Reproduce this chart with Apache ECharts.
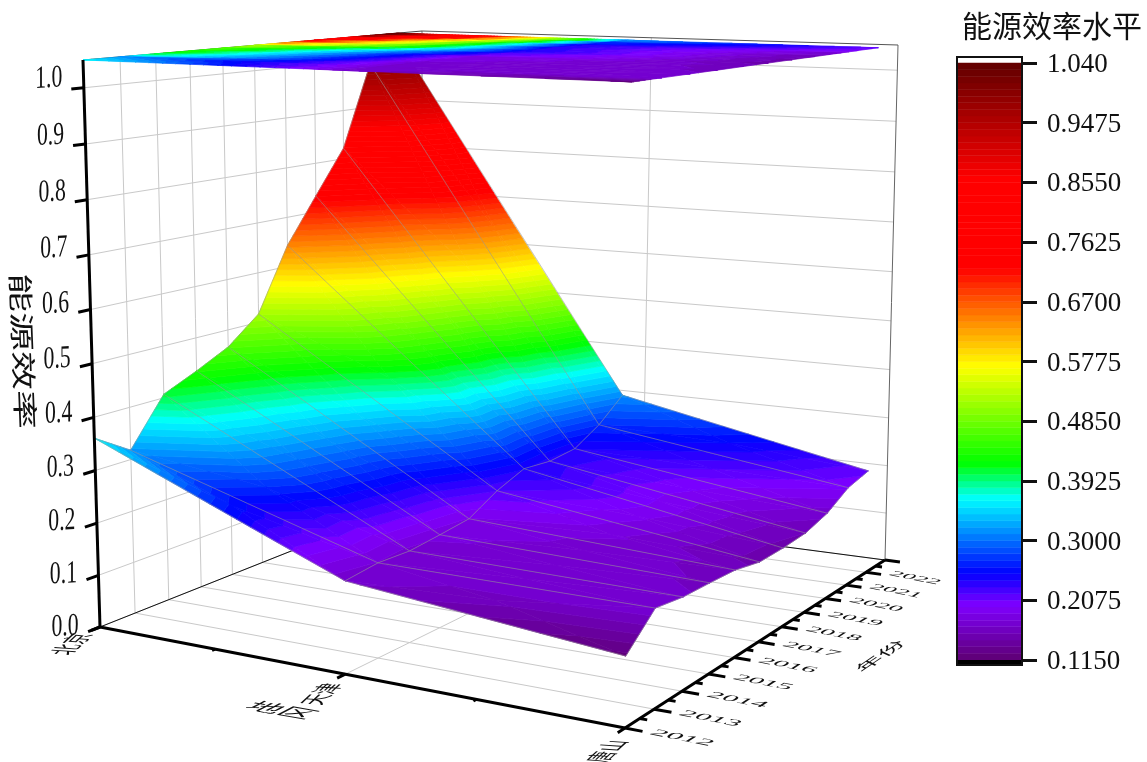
<!DOCTYPE html>
<html><head><meta charset="utf-8">
<style>html,body{margin:0;padding:0;background:#fff}#c{width:1147px;height:762px}</style>
<script src="https://cdn.jsdelivr.net/npm/echarts@6/dist/echarts.min.js"></script>
</head><body><div id="c"></div>
<script>
// ---- data ----
const regions = ['北京', '天津', '唐山'];
const years = [2012, 2013, 2014, 2015, 2016, 2017, 2018, 2019, 2020, 2021, 2022];
const beijing  = [0.361, 0.318, 0.407, 0.435, 0.466, 0.517, 0.643, 0.733, 0.822, 0.990, 1.040];
const tianjin  = [0.169, 0.176, 0.173, 0.179, 0.186, 0.218, 0.240, 0.234, 0.239, 0.269, 0.313];
const tangshan = [0.122, 0.175, 0.167, 0.165, 0.162, 0.151, 0.152, 0.156, 0.171, 0.199, 0.211];
const zTicks = [0, 0.1, 0.2, 0.3, 0.4, 0.5, 0.6, 0.7, 0.8, 0.9, 1.0];
const barTickLabels = ['1.040', '0.9475', '0.8550', '0.7625', '0.6700', '0.5775', '0.4850', '0.3925', '0.3000', '0.2075', '0.1150'];
const barTitle = '能源效率水平', zTitle = '能源效率', regionTitle = '地区', yearTitle = '年份';
const colorStops = [[0.115, [94,0,115]], [0.20, [127,0,255]], [0.25, [0,0,255]], [0.365, [0,255,255]],
  [0.42, [0,255,0]], [0.57, [255,255,0]], [0.722, [255,0,0]], [0.86, [255,0,0]], [1.04, [96,0,0]]];
const zMin = 0.115, zMax = 1.04, levelCount = 90;

// ---- camera of the 3D box ----
const zTop = 1.049, persp = 0.952, yearSpan = 11, regionPos = [0, 0.51, 1];
function homography(q) {
  const [p0, p1, p2, p3] = q;
  const dx1 = p1[0]-p2[0], dx2 = p3[0]-p2[0], sx = p0[0]-p1[0]+p2[0]-p3[0];
  const dy1 = p1[1]-p2[1], dy2 = p3[1]-p2[1], sy = p0[1]-p1[1]+p2[1]-p3[1];
  const den = dx1*dy2-dx2*dy1;
  const g = (sx*dy2-dx2*sy)/den, h = (dx1*sy-sx*dy1)/den;
  const a = p1[0]-p0[0]+g*p1[0], b = p3[0]-p0[0]+h*p3[0];
  const d = p1[1]-p0[1]+g*p1[1], e = p3[1]-p0[1]+h*p3[1];
  return (u, v) => { const w = g*u+h*v+1; return [(a*u+b*v+p0[0])/w, (d*u+e*v+p0[1])/w]; };
}
const floorH = homography([[100,627],[625,728],[885,560],[422,499]]);
const roofH  = homography([[83,60],[632,82],[898,45],[422,31]]);
function project(u, v, z) {
  const B = floorH(u, v), T = roofH(u, v);
  const t = z/zTop, s = t*persp/(1-t+t*persp);
  return [B[0]+(T[0]-B[0])*s, B[1]+(T[1]-B[1])*s];
}
const uOf = i => regionPos[i];
const vOf = j => j/yearSpan;

// ---- colours ----
function colorAt(z) {
  for (let i = 1; i < colorStops.length; i++) {
    if (z <= colorStops[i][0]) {
      const A = colorStops[i-1], B = colorStops[i], f = (z-A[0])/(B[0]-A[0]);
      return 'rgb(' + A[1].map((c, n) => Math.round(c+(B[1][n]-c)*f)).join(',') + ')';
    }
  }
  return 'rgb(96,0,0)';
}
const levelStep = (zMax-zMin)/levelCount;
const levels = Array.from({length: levelCount}, (_, i) => [zMin+i*levelStep, zMin+(i+1)*levelStep]);

// ---- contour bands ----
function clipAbove(poly, lim, sign) {
  const out = [];
  for (let i = 0; i < poly.length; i++) {
    const P = poly[i], Q = poly[(i+1)%poly.length];
    const a = sign*(P[2]-lim), b = sign*(Q[2]-lim);
    if (a >= 0) out.push(P);
    if ((a >= 0) !== (b >= 0)) { const f = a/(a-b); out.push([P[0]+(Q[0]-P[0])*f, P[1]+(Q[1]-P[1])*f, P[2]+(Q[2]-P[2])*f]); }
  }
  return out;
}
const table = [beijing, tianjin, tangshan];
const bands = [];
for (let j = years.length-2; j >= 0; j--) {
  for (let i = 0; i < regions.length-1; i++) {
    const n = (a, b) => [uOf(a), vOf(b), table[a][b]];
    const q = [n(i,j), n(i+1,j), n(i+1,j+1), n(i,j+1)];
    const c = [0,1,2].map(k => (q[0][k]+q[1][k]+q[2][k]+q[3][k])/4);
    [[q[2],q[3],c],[q[3],q[0],c],[q[1],q[2],c],[q[0],q[1],c]].forEach(tri => {
      levels.forEach((L, li) => {
        const low = li === 0 ? -1 : L[0], high = li === levelCount-1 ? 9 : L[1];
        let p = clipAbove(tri, low, 1); if (p.length < 3) return;
        p = clipAbove(p, high, -1); if (p.length < 3) return;
        bands.push({p, color: colorAt((L[0]+L[1])/2)});
      });
    });
  }
}

// ---- helpers for ECharts custom series ----
const GRID = '#c9c9c9';
function svd(a, b, c, d) {
  const E=(a+d)/2, F=(a-d)/2, G=(b+c)/2, H=(b-c)/2;
  const Q=Math.hypot(E,H), R=Math.hypot(F,G);
  const a1=Math.atan2(G,F), a2=Math.atan2(H,E);
  return {sx:Q+R, sy:Q-R, theta:(a2-a1)/2, phi:(a2+a1)/2};
}
function planeText(api, text, px, right, down, font) {
  const at = api.coord(px), m = svd(right[0], right[1], down[0], down[1]);
  return {type:'group', x:at[0], y:at[1], rotation:-m.phi, children:[{type:'group', scaleX:m.sx, scaleY:m.sy, children:[
    {type:'text', rotation:-m.theta, style:{text, x:0, y:0, fill:'#111', font, textAlign:'center', textVerticalAlign:'middle'}}]}]};
}
function line3(api, a, b, color, width) {
  const P = api.coord(project(...a)), Q = api.coord(project(...b));
  return {type:'line', shape:{x1:P[0], y1:P[1], x2:Q[0], y2:Q[1]}, style:{stroke:color, lineWidth:width, lineCap:'butt'}};
}
const single = fn => ({type:'custom', coordinateSystem:'cartesian2d', xAxisIndex:0, yAxisIndex:0, clip:false, silent:true, data:[[0,0]], renderItem:fn});
const SERIF = '"Liberation Serif","Times New Roman",serif';
const CJK = '"Noto Sans CJK SC",sans-serif';
const mid = regionPos[1];

function gridItem(params, api) {
  const ch = [];
  zTicks.forEach(z => { ch.push(line3(api,[0,0,z],[0,1,z],GRID,1)); ch.push(line3(api,[0,1,z],[1,1,z],GRID,1)); });
  for (let j = 1; j < yearSpan; j++) { ch.push(line3(api,[0,vOf(j),0],[0,vOf(j),zTop],GRID,1)); }
  ch.push(line3(api,[mid,1,0],[mid,1,zTop],GRID,1));
  for (let j = 0; j < yearSpan; j++) ch.push(line3(api,[0,vOf(j),0],[1,vOf(j),0],GRID,1));
  ch.push(line3(api,[mid,0,0],[mid,1,0],GRID,1));
  ch.push(line3(api,[0,0,0],[0,1,0],'#111',1));
  ch.push(line3(api,[0,1,0],[1,1,0],'#111',1));
  ch.push(line3(api,[0,1,0],[0,1,zTop],'#777',1));
  ch.push(line3(api,[1,1,0],[1,1,zTop],'#666',1));
  ch.push(line3(api,[0,0,zTop],[0,1,zTop],'#444',1));
  ch.push(line3(api,[0,1,zTop],[1,1,zTop],'#555',1));
  return {type:'group', children:ch};
}
const bandItem = onRoof => (params, api) => {
  const b = bands[params.dataIndex];
  const points = b.p.map(n => api.coord(project(n[0], n[1], onRoof ? zTop : n[2])));
  return {type:'polygon', shape:{points}, style:{fill:b.color, stroke:b.color, lineWidth:0.7}};
};
function meshItem(params, api) {
  const ch = [], mk = pts => ({type:'polyline', shape:{points:pts.map(p => api.coord(p))}, style:{stroke:'rgba(150,150,150,0.55)', lineWidth:1, fill:'none'}});
  table.forEach((row, i) => ch.push(mk(row.map((z, j) => project(uOf(i), vOf(j), z)))));
  years.forEach((y, j) => ch.push(mk(table.map((row, i) => project(uOf(i), vOf(j), row[j])))));
  return {type:'group', children:ch};
}
function axisItem(params, api) {
  const ch = [];
  ch.push(line3(api,[0,0,0],[0,0,zTop],'#000',3));
  ch.push(line3(api,[0,0,0],[1,0,0],'#000',3));
  ch.push(line3(api,[1,0,0],[1,1,0],'#000',3));
  zTicks.forEach(z => {
    ch.push(line3(api,[0,-0.03,z],[0,0,z],'#000',3));
    const p = project(0,0,z);
    ch.push(planeText(api, z.toFixed(1), [p[0]-35, p[1]-9*z], [0.68,-0.04], [0,1], '32px '+SERIF));
  });
  [0,mid,1].forEach(u => ch.push(line3(api,[u,-0.022,0],[u,0,0],'#000',3)));
  [0.25,0.75].forEach(u => ch.push(line3(api,[u,-0.008,0],[u,0,0],'#000',3)));
  for (let j = 0; j <= yearSpan; j++) {
    ch.push(line3(api,[1,vOf(j),0],[1.028,vOf(j),0],'#000',3));
    if (j < yearSpan) ch.push(line3(api,[1,(j+0.5)/yearSpan,0],[1.012,(j+0.5)/yearSpan,0],'#000',3));
  }
  years.forEach((y, j) => {
    const v = vOf(j), k = 0.8426/(0.8426+0.2223*v);
    const p = project(1.09, v, 0);
    ch.push(planeText(api, String(y), [p[0], p[1]-1], [1.69*k,0.33*k], [-0.67*k,0.43*k], '18px '+SERIF));
  });
  regions.forEach((r, i) => {
    const u = uOf(i), p = project(u, -0.07, 0);
    ch.push(planeText(api, r, [p[0]-1+6*u, p[1]+6+2*u], [0.65,-0.6], [1.5,0.1], '18px '+CJK));
  });
  ch.push(planeText(api, regionTitle, [282,710], [1.15,0.2], [-0.7,0.36], '28px '+CJK));
  ch.push(planeText(api, yearTitle, [880,656], [1.0,-0.68], [0.55,0.25], '22px '+CJK));
  ch.push(planeText(api, zTitle, [23,351], [0.05,1.3], [-0.85,0], '30px '+CJK));
  return {type:'group', children:ch};
}

// ---- colour bar ----
function barItem(params, api) {
  const ch = [];
  const x0 = api.coord([0,zMin])[0], x1 = api.coord([1,zMin])[0];
  const yTop = api.coord([0,zMax])[1], yBot = api.coord([0,zMin])[1];
  levels.forEach(L => {
    const a = api.coord([0,L[1]])[1], b = api.coord([0,L[0]])[1], col = colorAt((L[0]+L[1])/2);
    ch.push({type:'rect', shape:{x:x0, y:a, width:x1-x0, height:b-a}, style:{fill:col, stroke:col, lineWidth:0.5}});
  });
  ch.push({type:'rect', shape:{x:x0, y:yBot, width:x1-x0, height:5}, style:{fill:'#000'}});
  ch.push({type:'rect', shape:{x:x0, y:yTop-6, width:x1-x0, height:yBot-yTop+11}, style:{fill:'none', stroke:'#111', lineWidth:2}});
  return {type:'group', children:ch};
}

const chart = echarts.init(document.getElementById('c'), null, {renderer:'canvas'});
const idx = bands.map((b, i) => [i, 0]);
chart.setOption({
  animation:false,
  backgroundColor:'#fff',
  title:{text:barTitle, left:1047, top:6, textAlign:'center', textStyle:{fontFamily:CJK, fontWeight:'normal', fontSize:30, color:'#111'}},
  grid:[{left:0, top:0, right:0, bottom:0, show:false},{left:957, top:63, width:65, height:597, show:false}],
  xAxis:[{type:'value', gridIndex:0, min:0, max:1147, show:false},{type:'value', gridIndex:1, min:0, max:1, show:false}],
  yAxis:[{type:'value', gridIndex:0, min:0, max:762, inverse:true, show:false},
    {type:'value', gridIndex:1, position:'right', min:zMin, max:zMax, interval:0.0925,
     axisLine:{show:true, onZero:false, lineStyle:{color:'#111', width:2}}, splitLine:{show:false},
     axisTick:{show:true, inside:false, length:15, lineStyle:{color:'#111', width:3}},
     axisLabel:{show:true, margin:25, color:'#111', fontFamily:SERIF, fontSize:27, verticalAlign:'top', lineHeight:4,
       formatter:val => barTickLabels.find(t => Math.abs(parseFloat(t)-val) < 1e-6) || ''}}],
  series:[
    Object.assign(single(gridItem), {z:1}),
    {type:'custom', coordinateSystem:'cartesian2d', clip:false, silent:true, z:2, data:idx, renderItem:bandItem(false), progressive:0},
    Object.assign(single(meshItem), {z:3}),
    {type:'custom', coordinateSystem:'cartesian2d', clip:false, silent:true, z:4, data:idx, renderItem:bandItem(true), progressive:0},
    Object.assign(single(axisItem), {z:5}),
    {type:'custom', coordinateSystem:'cartesian2d', xAxisIndex:1, yAxisIndex:1, clip:false, silent:true, z:6, data:[[0,zMin]], renderItem:barItem}
  ]
});
</script></body></html>
